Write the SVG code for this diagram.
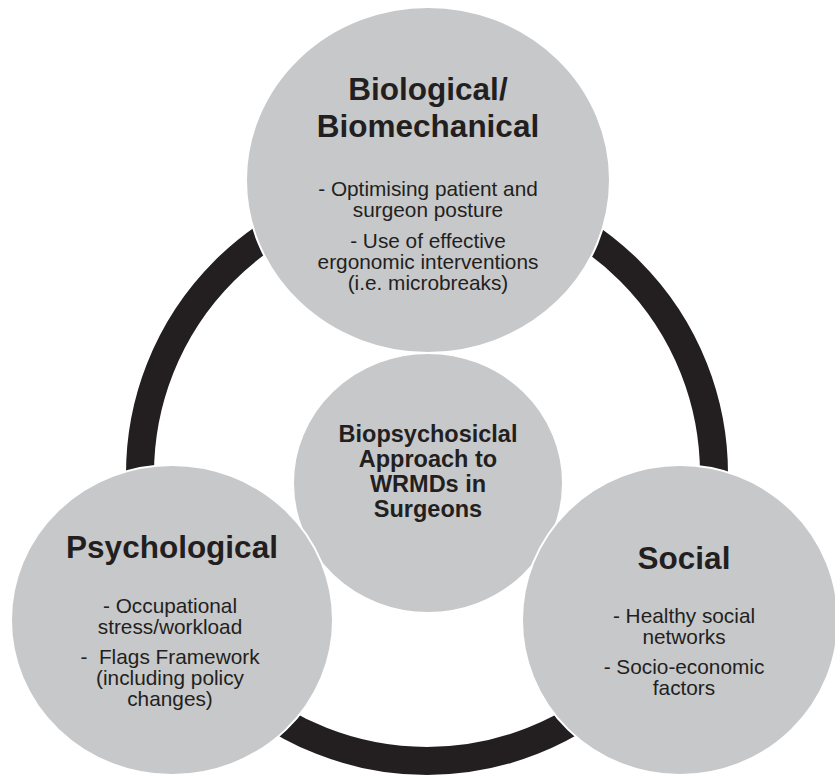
<svg xmlns="http://www.w3.org/2000/svg" width="835" height="776" viewBox="0 0 835 776">
  <style>
    .disc { fill: #c7c8ca; stroke: #ffffff; stroke-width: 2; }
    .head { font-family: "Liberation Sans", Arial, sans-serif; font-weight: bold; font-size: 31.5px; fill: #231f20; text-anchor: middle; }
    .core { font-family: "Liberation Sans", Arial, sans-serif; font-weight: bold; font-size: 23.5px; fill: #231f20; text-anchor: middle; }
    .body { font-family: "Liberation Sans", Arial, sans-serif; font-size: 20.8px; fill: #231f20; text-anchor: middle; }
  </style>
  <rect width="835" height="776" fill="#ffffff"/>

  <!-- ring linking the three domains -->
  <g id="connectors">
    <circle cx="427" cy="474" r="287" fill="none" stroke="#231f20" stroke-width="28"/>
  </g>

  <g id="core">
    <ellipse class="disc" cx="428" cy="483" rx="135" ry="130"/>
    <text class="core" x="428" y="442">Biopsychosiclal</text>
    <text class="core" x="428" y="467">Approach to</text>
    <text class="core" x="428" y="492">WRMDs in</text>
    <text class="core" x="428" y="517">Surgeons</text>
  </g>

  <g id="biological">
    <ellipse class="disc" cx="428" cy="180" rx="182" ry="173"/>
    <text class="head" x="428" y="100">Biological/</text>
    <text class="head" x="428" y="137">Biomechanical</text>
    <text class="body" x="428" y="196">- Optimising patient and</text>
    <text class="body" x="428" y="217">surgeon posture</text>
    <text class="body" x="428" y="248">- Use of effective</text>
    <text class="body" x="428" y="269">ergonomic interventions</text>
    <text class="body" x="428" y="290">(i.e. microbreaks)</text>
  </g>

  <g id="psychological">
    <ellipse class="disc" cx="172" cy="620" rx="161" ry="155"/>
    <text class="head" x="172" y="558">Psychological</text>
    <text class="body" x="170" y="613">- Occupational</text>
    <text class="body" x="170" y="634">stress/workload</text>
    <text class="body" x="170" y="664" xml:space="preserve">-  Flags Framework</text>
    <text class="body" x="170" y="685">(including policy</text>
    <text class="body" x="170" y="706">changes)</text>
  </g>

  <g id="social">
    <ellipse class="disc" cx="680" cy="620" rx="158" ry="155"/>
    <text class="head" x="684" y="569">Social</text>
    <text class="body" x="684" y="623">- Healthy social</text>
    <text class="body" x="684" y="644">networks</text>
    <text class="body" x="684" y="674">- Socio-economic</text>
    <text class="body" x="684" y="695">factors</text>
  </g>
</svg>
